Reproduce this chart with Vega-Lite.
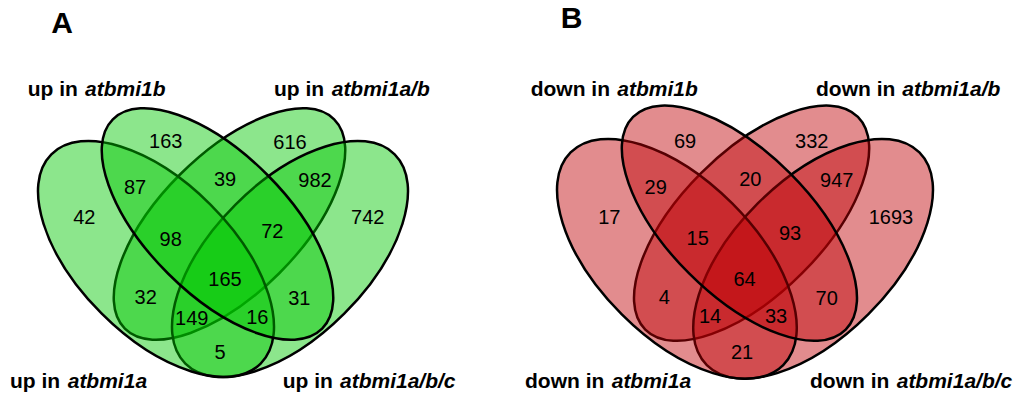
{
  "$schema": "https://vega.github.io/schema/vega-lite/v6.json",
  "width": 1024,
  "height": 395,
  "padding": 0,
  "autosize": {"type": "fit", "contains": "padding"},
  "background": "white",
  "config": {"view": {"stroke": null}},
  "datasets": {
    "ellipses": [
      {"panel": "A", "set": "atbmi1a/b", "ring": "inner", "dir": "rising", "cx": 229.5, "cy": 224},
      {"panel": "A", "set": "atbmi1a/b/c", "ring": "outer", "dir": "rising", "cx": 290, "cy": 259},
      {"panel": "A", "set": "atbmi1a", "ring": "outer", "dir": "falling", "cx": 156, "cy": 259},
      {"panel": "A", "set": "atbmi1b", "ring": "inner", "dir": "falling", "cx": 217.5, "cy": 224},
      {"panel": "B", "set": "atbmi1a/b", "ring": "inner", "dir": "rising", "cx": 751.6, "cy": 223.2},
      {"panel": "B", "set": "atbmi1a/b/c", "ring": "outer", "dir": "rising", "cx": 813.1, "cy": 258.8},
      {"panel": "B", "set": "atbmi1a", "ring": "outer", "dir": "falling", "cx": 676.9, "cy": 258.8},
      {"panel": "B", "set": "atbmi1b", "ring": "inner", "dir": "falling", "cx": 739.4, "cy": 223.2}
    ],
    "counts": [
      {"panel": "A", "n": "163", "x": 165.7, "y": 142.3},
      {"panel": "A", "n": "616", "x": 290, "y": 142.7},
      {"panel": "A", "n": "87", "x": 135, "y": 188.3},
      {"panel": "A", "n": "39", "x": 225, "y": 180},
      {"panel": "A", "n": "982", "x": 315, "y": 180.7},
      {"panel": "A", "n": "42", "x": 84.3, "y": 217.7},
      {"panel": "A", "n": "742", "x": 367.7, "y": 217.7},
      {"panel": "A", "n": "98", "x": 170.7, "y": 240},
      {"panel": "A", "n": "72", "x": 272.3, "y": 231.7},
      {"panel": "A", "n": "165", "x": 225, "y": 280},
      {"panel": "A", "n": "32", "x": 145.7, "y": 298.3},
      {"panel": "A", "n": "31", "x": 299.3, "y": 299},
      {"panel": "A", "n": "149", "x": 191.7, "y": 319.3},
      {"panel": "A", "n": "16", "x": 257.3, "y": 317.7},
      {"panel": "A", "n": "5", "x": 220, "y": 352.7},
      {"panel": "B", "n": "69", "x": 685, "y": 141.7},
      {"panel": "B", "n": "332", "x": 811.7, "y": 141.7},
      {"panel": "B", "n": "29", "x": 655.7, "y": 188.3},
      {"panel": "B", "n": "20", "x": 750.3, "y": 180},
      {"panel": "B", "n": "947", "x": 836.7, "y": 180.7},
      {"panel": "B", "n": "17", "x": 609.3, "y": 218.3},
      {"panel": "B", "n": "1693", "x": 891, "y": 217.7},
      {"panel": "B", "n": "15", "x": 697.7, "y": 239.3},
      {"panel": "B", "n": "93", "x": 790, "y": 234.3},
      {"panel": "B", "n": "64", "x": 744.5, "y": 280},
      {"panel": "B", "n": "4", "x": 664.3, "y": 298.3},
      {"panel": "B", "n": "70", "x": 826.7, "y": 299},
      {"panel": "B", "n": "14", "x": 710, "y": 317.3},
      {"panel": "B", "n": "33", "x": 776, "y": 317.3},
      {"panel": "B", "n": "21", "x": 742, "y": 353}
    ],
    "setlabels": [
      {"panel": "A", "prefix": "up in", "name": "atbmi1b", "x1": 27.7, "x2": 85, "y": 90},
      {"panel": "A", "prefix": "up in", "name": "atbmi1a/b", "x1": 274, "x2": 331.7, "y": 90},
      {"panel": "A", "prefix": "up in", "name": "atbmi1a", "x1": 10, "x2": 67.7, "y": 381.7},
      {"panel": "A", "prefix": "up in", "name": "atbmi1a/b/c", "x1": 282.7, "x2": 340, "y": 381.7},
      {"panel": "B", "prefix": "down in", "name": "atbmi1b", "x1": 530.7, "x2": 617.3, "y": 90},
      {"panel": "B", "prefix": "down in", "name": "atbmi1a/b", "x1": 816, "x2": 902.3, "y": 90},
      {"panel": "B", "prefix": "down in", "name": "atbmi1a", "x1": 525, "x2": 611.7, "y": 381.7},
      {"panel": "B", "prefix": "down in", "name": "atbmi1a/b/c", "x1": 810, "x2": 896.7, "y": 381.7}
    ],
    "titles": [
      {"panel": "A", "label": "A", "x": 62, "y": 24},
      {"panel": "B", "label": "B", "x": 571.7, "y": 19}
    ]
  },
  "layer": [
    {
      "data": {"name": "ellipses"},
      "transform": [{"filter": "datum.ring == 'inner' && datum.dir == 'rising'"}],
      "mark": {
        "type": "point",
        "shape": "M -1 0 C -1 -0.2605 -0.5523 -0.473 0 -0.473 C 0.5523 -0.473 1 -0.2605 1 0 C 1 0.2605 0.5523 0.473 0 0.473 C -0.5523 0.473 -1 0.2605 -1 0 Z",
        "filled": true, "angle": -45, "opacity": 1, "fillOpacity": 0.45,
        "stroke": "black", "strokeWidth": 2.5, "strokeOpacity": 1, "clip": false
      },
      "encoding": {
        "x": {"field": "cx", "type": "quantitative", "scale": {"domain": [0, 1024], "nice": false, "zero": false}, "axis": null},
        "y": {"field": "cy", "type": "quantitative", "scale": {"domain": [0, 395], "reverse": true, "nice": false, "zero": false}, "axis": null},
        "color": {"field": "panel", "type": "nominal", "scale": {"domain": ["A", "B"], "range": ["#00c800", "#be0005"]}, "legend": null},
        "size": {"field": "panel", "type": "nominal", "scale": {"domain": ["A", "B"], "range": [87616, 90420]}, "legend": null}
      }
    },
    {
      "data": {"name": "ellipses"},
      "transform": [{"filter": "datum.ring == 'outer' && datum.dir == 'rising'"}],
      "mark": {
        "type": "point",
        "shape": "M -1 0 C -1 -0.2875 -0.5523 -0.5205 0 -0.5205 C 0.5523 -0.5205 1 -0.2875 1 0 C 1 0.2875 0.5523 0.5205 0 0.5205 C -0.5523 0.5205 -1 0.2875 -1 0 Z",
        "filled": true, "angle": -45, "opacity": 1, "fillOpacity": 0.45,
        "stroke": "black", "strokeWidth": 2.5, "strokeOpacity": 1, "clip": false
      },
      "encoding": {
        "x": {"field": "cx", "type": "quantitative"},
        "y": {"field": "cy", "type": "quantitative"},
        "color": {"field": "panel", "type": "nominal", "scale": {"domain": ["A", "B"], "range": ["#00c800", "#be0005"]}, "legend": null},
        "size": {"field": "panel", "type": "nominal", "scale": {"domain": ["A", "B"], "range": [85264, 88000]}, "legend": null}
      }
    },
    {
      "data": {"name": "ellipses"},
      "transform": [{"filter": "datum.ring == 'outer' && datum.dir == 'falling'"}],
      "mark": {
        "type": "point",
        "shape": "M -1 0 C -1 -0.2875 -0.5523 -0.5205 0 -0.5205 C 0.5523 -0.5205 1 -0.2875 1 0 C 1 0.2875 0.5523 0.5205 0 0.5205 C -0.5523 0.5205 -1 0.2875 -1 0 Z",
        "filled": true, "angle": 45, "opacity": 1, "fillOpacity": 0.45,
        "stroke": "black", "strokeWidth": 2.5, "strokeOpacity": 1, "clip": false
      },
      "encoding": {
        "x": {"field": "cx", "type": "quantitative"},
        "y": {"field": "cy", "type": "quantitative"},
        "color": {"field": "panel", "type": "nominal", "scale": {"domain": ["A", "B"], "range": ["#00c800", "#be0005"]}, "legend": null},
        "size": {"field": "panel", "type": "nominal", "scale": {"domain": ["A", "B"], "range": [85264, 88000]}, "legend": null}
      }
    },
    {
      "data": {"name": "ellipses"},
      "transform": [{"filter": "datum.ring == 'inner' && datum.dir == 'falling'"}],
      "mark": {
        "type": "point",
        "shape": "M -1 0 C -1 -0.2605 -0.5523 -0.473 0 -0.473 C 0.5523 -0.473 1 -0.2605 1 0 C 1 0.2605 0.5523 0.473 0 0.473 C -0.5523 0.473 -1 0.2605 -1 0 Z",
        "filled": true, "angle": 45, "opacity": 1, "fillOpacity": 0.45,
        "stroke": "black", "strokeWidth": 2.5, "strokeOpacity": 1, "clip": false
      },
      "encoding": {
        "x": {"field": "cx", "type": "quantitative"},
        "y": {"field": "cy", "type": "quantitative"},
        "color": {"field": "panel", "type": "nominal", "scale": {"domain": ["A", "B"], "range": ["#00c800", "#be0005"]}, "legend": null},
        "size": {"field": "panel", "type": "nominal", "scale": {"domain": ["A", "B"], "range": [87616, 90420]}, "legend": null}
      }
    },
    {
      "data": {"name": "counts"},
      "mark": {"type": "text", "font": "Liberation Sans", "fontSize": 20, "align": "center", "baseline": "middle", "color": "black"},
      "encoding": {
        "x": {"field": "x", "type": "quantitative"},
        "y": {"field": "y", "type": "quantitative"},
        "text": {"field": "n"}
      }
    },
    {
      "data": {"name": "setlabels"},
      "mark": {"type": "text", "font": "Liberation Sans", "fontSize": 21, "fontWeight": "bold", "align": "left", "baseline": "middle", "color": "black"},
      "encoding": {
        "x": {"field": "x1", "type": "quantitative"},
        "y": {"field": "y", "type": "quantitative"},
        "text": {"field": "prefix"}
      }
    },
    {
      "data": {"name": "setlabels"},
      "mark": {"type": "text", "font": "Liberation Sans", "fontSize": 21, "fontWeight": "bold", "fontStyle": "italic", "align": "left", "baseline": "middle", "color": "black"},
      "encoding": {
        "x": {"field": "x2", "type": "quantitative"},
        "y": {"field": "y", "type": "quantitative"},
        "text": {"field": "name"}
      }
    },
    {
      "data": {"name": "titles"},
      "mark": {"type": "text", "font": "Liberation Sans", "fontSize": 30, "fontWeight": "bold", "align": "center", "baseline": "middle", "color": "black"},
      "encoding": {
        "x": {"field": "x", "type": "quantitative"},
        "y": {"field": "y", "type": "quantitative"},
        "text": {"field": "label"}
      }
    }
  ]
}
